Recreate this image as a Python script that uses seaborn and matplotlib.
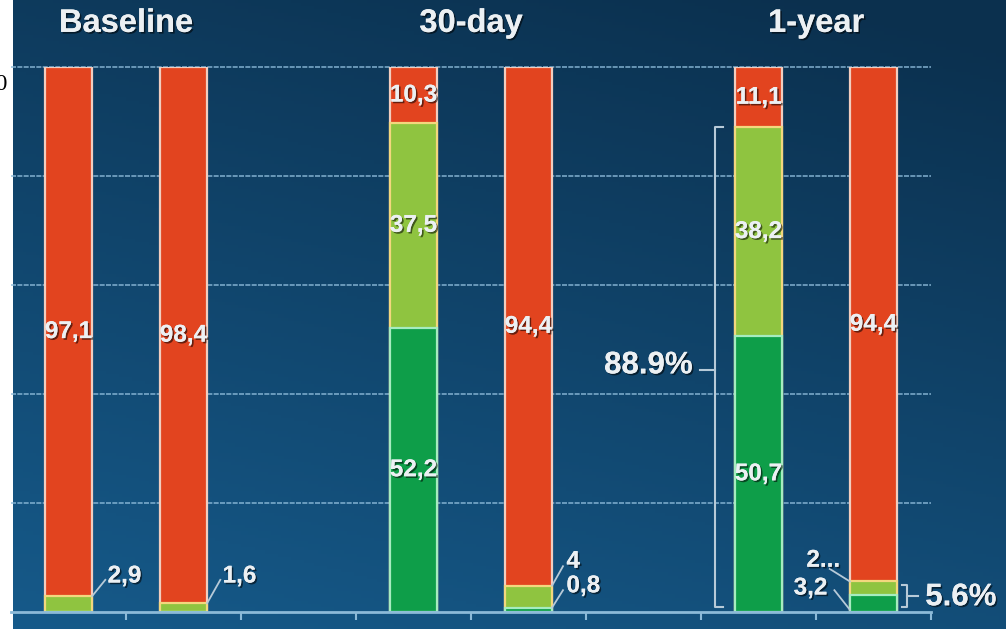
import numpy as np
import pandas as pd
import seaborn as sns
import matplotlib
matplotlib.use("Agg")
import matplotlib.pyplot as plt
import matplotlib.patheffects as pe

# ---- data -------------------------------------------------------------
arms = ["Baseline A", "Baseline B", "30-day A", "30-day B", "1-year A", "1-year B"]
slot_order = ["Baseline A", "Baseline B", "gap 1", "30-day A", "30-day B",
              "gap 2", "1-year A", "1-year B"]
period_titles = ["Baseline", "30-day", "1-year"]
period_title_x = [0.5, 3.5, 6.5]

dark_green = [0.0, 0.0, 52.2, 0.8, 50.7, 3.2]
light_green = [2.9, 1.6, 37.5, 4.0, 38.2, 2.4]
red = [97.1, 98.4, 10.3, 94.4, 11.1, 94.4]

bracket_big = ("1-year A", 88.9)      # dark + light green of 1-year A
bracket_small = ("1-year B", 5.6)     # dark + light green of 1-year B

# ---- colours ----------------------------------------------------------
C_RED, C_LG, C_DG = "#E2441F", "#8FC440", "#0E9E49"
E_RED, E_LG, E_DG = "#F2CDBF", "#F3D77E", "#A6ECC0"
C_TEXT = "#ECF0F3"
C_AXIS = "#8CBAD8"
C_BRACKET = "#B7CAD8"

# 100 % stacked: each bar is scaled to its own total
df = pd.DataFrame({"arm": arms, "dg": dark_green, "lg": light_green, "red": red})
tot = df["dg"] + df["lg"] + df["red"]
df["s_dg"] = df["dg"] / tot * 100
df["s_lg"] = df["lg"] / tot * 100
df["s_red"] = df["red"] / tot * 100
df["top_lg"] = df["s_dg"] + df["s_lg"]
df["total"] = df["top_lg"] + df["s_red"]

W, H = 1006, 629
fig = plt.figure(figsize=(W / 100, H / 100), dpi=100, facecolor="white")

# background gradient: deep navy at the top/right, lighter blue lower left
bg = fig.add_axes([13 / W, 0, 1 - 13 / W, 1])
yy, xx = np.mgrid[0:1:200j, 0:1:300j]          # yy = 0 at the top row
t = np.clip(0.75 * yy + 0.3 * (1 - xx) - 0.05, 0, 1)
c_dark = np.array([11, 48, 78]) / 255
c_light = np.array([22, 90, 138]) / 255
img = c_dark[None, None, :] * (1 - t[..., None]) + c_light[None, None, :] * t[..., None]
bg.imshow(img, aspect="auto", extent=[0, 1, 0, 1], origin="upper")
bg.axis("off")

ax = fig.add_axes([11 / W, (H - 612) / H, 920 / W, 545 / H])
ax.patch.set_alpha(0)

bar_w = 0.41
layers = [("total", C_RED, E_RED), ("top_lg", C_LG, E_LG), ("s_dg", C_DG, E_DG)]
for col, fc, ec in layers:
    sns.barplot(data=df, x="arm", y=col, order=slot_order, color=fc,
                saturation=1, width=bar_w, edgecolor=ec, linewidth=1.6,
                ax=ax, zorder=3)

ax.set_xlim(-0.5, 7.5)
ax.set_ylim(0, 100)
ax.set_xlabel("")
ax.set_ylabel("")

# grid
ax.set_yticks([20, 40, 60, 80, 100])
ax.set_yticklabels([])
ax.tick_params(axis="y", length=0)
ax.grid(axis="y", color="#8CBAD9", linewidth=1.2, linestyle=(0, (3, 0.8)), alpha=0.85)
ax.set_axisbelow(True)
for gl in ax.get_ygridlines():
    gl.set_clip_on(False)

# x axis: boundary ticks only
ax.set_xticks([])
ax.set_xticks(np.arange(0.5, 8, 1), minor=True)
ax.tick_params(axis="x", which="minor", length=6, width=1.5, color=C_AXIS,
               direction="out", labelbottom=False)
for s in ["top", "right", "left"]:
    ax.spines[s].set_visible(False)
ax.spines["bottom"].set_color(C_AXIS)
ax.spines["bottom"].set_linewidth(2)
ax.spines["bottom"].set_zorder(5)

shadow = [pe.withSimplePatchShadow(offset=(1.2, -1.2), shadow_rgbFace="black", alpha=0.55),
          pe.Normal()]

def fmt(v):
    s = f"{v:.1f}".replace(".", ",")
    return s[:-2] if s.endswith(",0") else s

pos = {name: slot_order.index(name) for name in arms}
lab_kw = dict(color=C_TEXT, fontsize=17.5, fontweight="bold",
              family="Liberation Sans", path_effects=shadow, zorder=6)

# values inside large segments
for _, r in df.iterrows():
    x = pos[r["arm"]]
    segs = [(0, r["s_dg"], r["dg"]), (r["s_dg"], r["top_lg"], r["lg"]),
            (r["top_lg"], r["total"], r["red"])]
    for lo, hi, v in segs:
        if v >= 10:
            ax.text(x, (lo + hi) / 2, fmt(v), ha="center", va="center", **lab_kw)

# small segments labelled outside with leader lines
def leader(x0, y0, x1, y1):
    ax.plot([x0, x1], [y0, y1], color=C_BRACKET, lw=1.3, zorder=6, clip_on=False)

half = bar_w / 2
for name in ["Baseline A", "Baseline B"]:
    r = df[df.arm == name].iloc[0]
    x = pos[name]
    leader(x + half, r["top_lg"], x + 0.32, 5.9)
    ax.text(x + 0.34, 6.6, fmt(r["lg"]), ha="left", va="center", **lab_kw)

r = df[df.arm == "30-day B"].iloc[0]
x = pos["30-day B"]
leader(x + half, r["top_lg"], x + 0.30, 8.4)
leader(x + half, r["s_dg"], x + 0.30, 4.0)
ax.text(x + 0.33, 9.3, fmt(r["lg"]), ha="left", va="center", **lab_kw)
ax.text(x + 0.33, 4.8, fmt(r["dg"]), ha="left", va="center", **lab_kw)

r = df[df.arm == "1-year B"].iloc[0]
x = pos["1-year B"]
leader(x - half, r["top_lg"], x - 0.38, 7.9)
leader(x - half, 0.4, x - 0.34, 4.0)
ax.text(x - 0.29, 9.5, fmt(r["lg"])[0] + "...", ha="right", va="center", **lab_kw)
ax.text(x - 0.40, 4.4, fmt(r["dg"]), ha="right", va="center", **lab_kw)

# period titles
for tx, title in zip(period_title_x, period_titles):
    ax.text(tx, 108.0, title, ha="center", va="center", color=C_TEXT,
            fontsize=23.5, fontweight="bold", family="Liberation Sans",
            path_effects=shadow, clip_on=False, zorder=6)

# bracket for combined green share of 1-year A
name, val = bracket_big
bx = pos[name] - 0.38
ax.plot([bx + 0.07, bx, bx, bx + 0.07], [val, val, 1.0, 1.0],
        color=C_BRACKET, lw=1.5, clip_on=False, zorder=6)
ax.plot([bx, bx - 0.13], [val / 2, val / 2], color=C_BRACKET, lw=1.5, clip_on=False, zorder=6)
ax.text(bx - 0.19, val / 2 + 0.8, f"{val}%", ha="right", va="center", color=C_TEXT,
        fontsize=22.5, fontweight="bold", family="Liberation Sans",
        path_effects=shadow, clip_on=False, zorder=6)

# bracket for combined green share of 1-year B
name, val = bracket_small
bx = pos[name] + 0.29
ax.plot([bx - 0.045, bx, bx, bx - 0.045], [val - 0.6, val - 0.6, 0.9, 0.9],
        color=C_BRACKET, lw=1.5, clip_on=False, zorder=6)
ax.plot([bx, bx + 0.1], [2.9, 2.9], color=C_BRACKET, lw=1.5, clip_on=False, zorder=6)
ax.text(bx + 0.16, 2.7, f"{val}%", ha="left", va="center", color=C_TEXT,
        fontsize=22.5, fontweight="bold", family="Liberation Sans",
        path_effects=shadow, clip_on=False, zorder=6)

# axis value label partly off the left edge
fig.text(8 / W, 1 - 85 / H, "100", ha="right", va="center", color="black",
         fontsize=17, family="Liberation Serif")

fig.savefig("out.png", dpi=100, facecolor="white")
